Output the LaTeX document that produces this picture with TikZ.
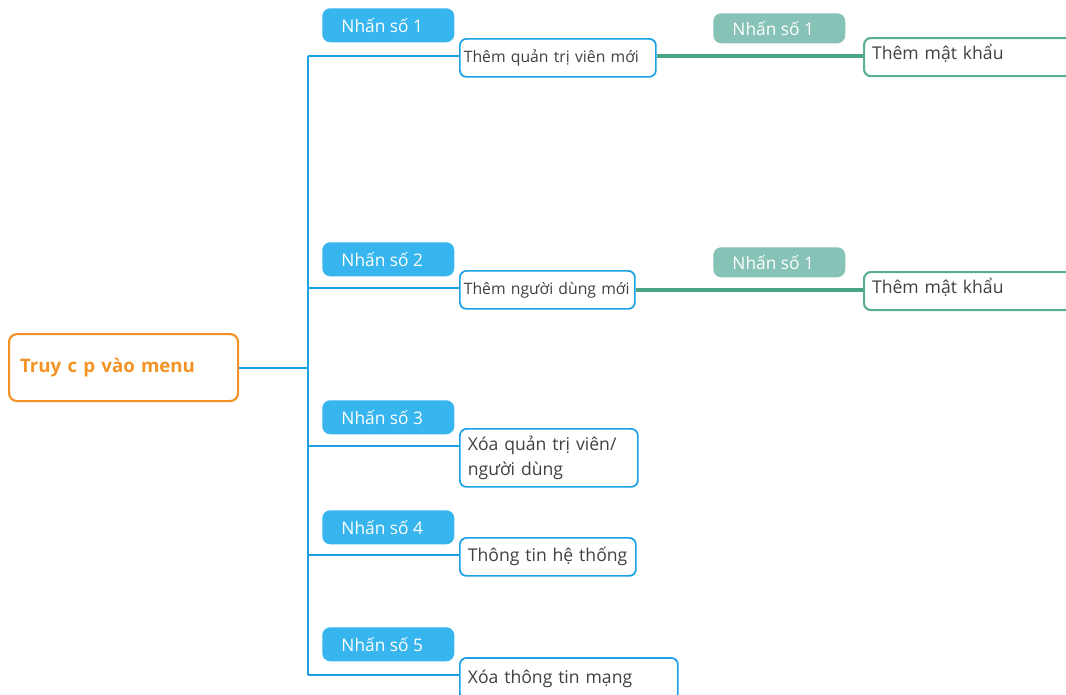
\documentclass[tikz,border=0pt]{standalone}
\usepackage{fontspec}
\setmainfont{Open Sans}
\usetikzlibrary{positioning}
\definecolor{rootorange}{HTML}{F39325}
\definecolor{lineblue}{HTML}{1A9FE0}
\definecolor{pillblue}{HTML}{36B5EE}
\definecolor{boxblue}{HTML}{1BA1E6}
\definecolor{linegreen}{HTML}{4AA584}
\definecolor{pillgreen}{HTML}{86C2B6}
\definecolor{boxgreen}{HTML}{5AAE94}
\definecolor{textgray}{HTML}{404040}

\begin{document}
\begin{tikzpicture}[x=0.75pt,y=-0.75pt,
    pill/.style={fill=pillblue,rounded corners=6pt,minimum width=99pt,minimum height=25.5pt,
      anchor=north west,text=white,inner sep=0pt,font=\fontsize{13}{14}\selectfont,
      execute at end node={\hspace*{9pt}}},
    gpill/.style={pill,fill=pillgreen,minimum height=22.5pt},
    item/.style={draw=boxblue,line width=1.3pt,rounded corners=5pt,fill=white,anchor=north west,
      align=left,inner xsep=6pt,inner ysep=0pt,minimum height=28.5pt,text=textgray,
      font=\fontsize{13.2}{19}\selectfont},
    small/.style={inner xsep=3pt,font=\fontsize{11.8}{14}\selectfont},
    leaf/.style={item,draw=boxgreen,line width=1.6pt,text height=10pt,text depth=7pt},
    bline/.style={draw=lineblue,line width=1.6pt},
    gline/.style={draw=linegreen,line width=2.5pt}]
\useasboundingbox (0,0) rectangle (1066,694);

% root
\node[draw=rootorange,line width=1.6pt,rounded corners=6pt,anchor=north west,align=left,
  text width=155.25pt,inner xsep=8.25pt,minimum height=50.25pt,text=rootorange,
  font=\fontsize{14}{16}\selectfont\bfseries] (root) at (8,333) {Truy c p vào menu};

% choices
\node[pill] (n1) at (322,8) {Nhấn số 1};
\node[pill] (n2) at (322,242) {Nhấn số 2};
\node[pill] (n3) at (322,400) {Nhấn số 3};
\node[pill] (n4) at (322,510) {Nhấn số 4};
\node[pill] (n5) at (322,627) {Nhấn số 5};

\node[item,small,text width=141pt] (b1) at (459,38) {Thêm quản trị viên mới};
\node[item,small,text width=125.25pt] (b2) at (459,270) {Thêm người dùng mới};
\node[item,text width=121.5pt,minimum height=43.5pt] (b3) at (459,428) {Xóa quản trị viên/\\người dùng};
\node[item,text width=120pt] (b4) at (459,537) {Thông tin hệ thống};
\node[item,text width=151.5pt,minimum height=31.5pt] (b5) at (459,657) {Xóa thông tin mạng};

% second level
\node[gpill] (g1) at (713,13) {Nhấn số 1};
\node[gpill] (g2) at (713,247) {Nhấn số 1};
\node[leaf,text width=145.5pt] (p1) at (863,37) {Thêm mật khẩu};
\node[leaf,text width=145.5pt] (p2) at (863,271) {Thêm mật khẩu};

% connectors
\coordinate (tk) at (308,0);
\foreach \b in {b1,b2,b3,b4,b5}
  \coordinate (\b a) at ([yshift=-13.5pt]\b.north west);
\draw[bline] (root.east) -- (root.east -| tk);
\draw[bline] (b1a -| tk) -- (b5a -| tk);
\foreach \b in {b1,b2,b3,b4,b5}
  \draw[bline] (\b a -| tk) -- (\b a);
\draw[gline] (b1a -| b1.east) -- (b1a -| p1.west);
\draw[gline] (b2.east) -- (b2.east -| p2.west);
\end{tikzpicture}
\end{document}
